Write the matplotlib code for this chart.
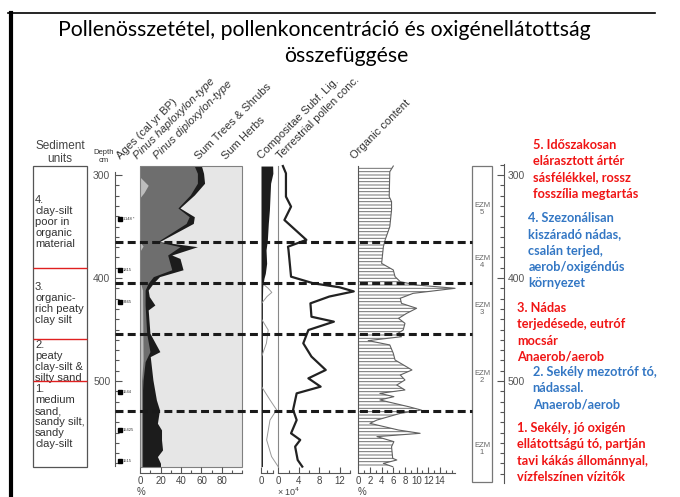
import numpy as np
import matplotlib
matplotlib.use('Agg')
from matplotlib import pyplot as plt
from matplotlib.patches import Rectangle

plt.rcParams['font.family'] = ['Liberation Sans', 'DejaVu Sans']
plt.rcParams['hatch.linewidth'] = 0.7
plt.rcParams['hatch.color'] = '#707070'

W, H = 680, 497
D_TOP, D_BOT = 291.3, 583.1

# zone boundaries, depth in cm
zones = [365.4, 405.2, 454.7, 529.0]
sed_bounds = [390.3, 459.2, 500.0]
ezm_names = ['EZM\n5', 'EZM\n4', 'EZM\n3', 'EZM\n2', 'EZM\n1']
ezm_depth = [333, 384.5, 430, 496, 566]

age_depth = [343, 392, 423, 511, 548, 578]
age_label = ['1148 *', '1815', '9465', '1544', '15425', '1515']

# pollen percentages (cumulative)
trees_d = [291.3, 298.4, 308.0, 319.4, 332.0, 340.5, 347.0, 364.7, 369.6, 377.7,
           381.0, 392.0, 398.7, 405.0, 411.7, 418.0, 426.2, 431.0, 453.7, 471.5,
           476.3, 499.0, 518.4, 528.0, 541.0, 547.5, 557.2, 566.9, 573.4, 579.9, 583.1]
trees = [60, 62, 63, 53, 39, 53, 52, 19, 56, 31,
         39, 42, 19, 13, 8, 9, 14.5, 8, 9.7, 19.4,
         10, 12.6, 16, 19, 17, 21, 21, 22, 17, 20, 20]
dip_d = [291.3, 298.4, 308.0, 319.4, 332.0, 340.5, 347.0, 364.7, 369.6, 377.7,
         392.0, 398.7, 405.0, 411.7, 426.2, 453.7, 471.5, 481.2, 499.0, 508.7, 583.1]
dip = [53, 56, 56, 49, 37, 48, 45, 17, 39, 27,
       31, 13, 8, 5, 5, 6.5, 9.7, 5, 3, 2.5, 2.5]
hap_d = [291.3, 302, 310, 317, 322, 365, 369, 374, 403, 411.7, 480, 500, 583.1]
hap = [0, 0, 8, 4, 0, 0, 3, 0, 0, 2.5, 3, 1.5, 1.5]

# Compositae Subf. Lig.
comp_d = [291.3, 298.4, 308.1, 321.0, 334.0, 346.9, 363.1, 372.8, 385.8, 395.5,
          400.3, 408.4, 420, 583.1]
comp = [9.7, 9.9, 8.0, 7.5, 7.0, 6.1, 5.3, 4.2, 4.7, 3.6, 2.5, 1.4, 1.2, 1.2]
lig_d = [405, 410, 414, 418, 424.6, 440, 450.5, 463.4, 476.3, 505.5,
         518.4, 528, 537.9, 557.2, 573.4, 583.1]
lig = [1, 6, 9, 5, 0.5, 0.5, 6, 4.5, 0.5, 0.5, 7.5, 13, 7.5, 4.7, 8.8, 14.3]

# terrestrial pollen conc. (x 10^4)
terr_d = [291.3, 298.4, 321.0, 330.7, 343.7, 363.0, 369.6, 372.8, 398.7, 405.2,
          409.0, 413.0, 418.0, 424.6, 437.6, 442.4, 450.5, 463.4, 476.3, 489.3,
          497.4, 505.5, 512.0, 528.0, 537.9, 550.8, 557.2, 563.7, 576.7, 583.1]
terr = [0.9, 1.5, 1.5, 2.5, 1.2, 5.5, 1.9, 2.0, 2.5, 6.9,
        12.0, 14.8, 10.0, 6.3, 6.5, 10.9, 5.9, 4.9, 6.5, 9.3,
        5.9, 8.3, 3.6, 2.9, 3.6, 2.5, 4.3, 3.3, 3.8, 4.7]

# organic content %
org_d = [291.3, 296.8, 321.0, 325.9, 334.0, 350.2, 363.1, 369.6, 385.8, 392.2,
         398.7, 403.6, 406.8, 410.0, 414.9, 419.7, 424.6, 429.4, 434.3, 439.2,
         444.0, 450.5, 454.4, 457.0, 460.8, 465.0, 473.1, 479.6, 489.3, 494.2,
         499.0, 503.9, 508.7, 512.0, 515.2, 518.4, 524.9, 528.2, 531.4, 537.9,
         541.1, 547.6, 550.8, 554.0, 558.9, 563.8, 575.1, 576.7, 580.0, 583.2]
org = [6.0, 5.4, 5.3, 5.7, 5.7, 5.4, 4.6, 4.3, 4.0, 6.0,
       6.3, 7.2, 10.0, 16.6, 9.4, 7.2, 7.4, 10.0, 8.3, 6.9,
       8.0, 7.7, 6.6, 7.4, 1.7, 5.4, 6.0, 6.3, 9.2, 7.2,
       8.0, 6.6, 8.0, 3.7, 6.1, 3.7, 8.6, 10.8, 7.2, 3.2,
       2.0, 6.9, 10.6, 3.2, 6.1, 5.7, 5.9, 6.6, 4.3, 5.9]

headers = [(121, 'Ages (cal yr BP)', 'normal'),
           (138, 'Pinus haploxylon-type', 'italic'),
           (158, 'Pinus diploxylon-type', 'italic'),
           (199, 'Sum Trees & Shrubs', 'normal'),
           (226, 'Sum Herbs', 'normal'),
           (262, 'Compositae Subf. Lig.', 'normal'),
           (281, 'Terrestrial pollen conc.', 'normal'),
           (355, 'Organic content', 'normal')]

sed_text = [(200, '4.\nclay-silt\npoor in\norganic\nmaterial'),
            (287, '3.\norganic-\nrich peaty\nclay silt'),
            (345, '2.\npeaty\nclay-silt &\nsilty sand'),
            (389, '1.\nmedium\nsand,\nsandy silt,\nsandy\nclay-silt')]

RED, BLUE = '#f01414', '#3377c4'
notes = [(532.7, 145, RED, '5. Időszakosan\nelárasztott ártér\nsásfélékkel, rossz\nfosszília megtartás'),
         (528.3, 218.3, BLUE, '4. Szezonálisan\nkiszáradó nádas,\ncsalán terjed,\naerob/oxigéndús\nkörnyezet'),
         (517.3, 308.3, RED, '3. Nádas\nterjedésede, eutróf\nmocsár\nAnaerob/aerob'),
         (532.7, 371.7, BLUE, '2. Sekély mezotróf tó,\nnádassal.\nAnaerob/aerob'),
         (517.3, 428.3, RED, '1. Sekély, jó oxigén\nellátottságú tó, partján\ntavi kákás állománnyal,\nvízfelszínen vízitők')]


def dpx(d):
    # depth in cm -> pixel row on the slide
    return 175 + (d - 300) * 1.03


fig = plt.figure(figsize=(W / 100, H / 100), dpi=100)


def ax_px(x0, x1, y0, y1):
    return fig.add_axes([x0 / W, 1 - y1 / H, (x1 - x0) / W, (y1 - y0) / H])


def block(x, y, txt, pitch, **kw):
    for i, s in enumerate(txt.split('\n')):
        bg.text(x, y + i * pitch, s, va='center', **kw)


def bottom_axis(ax, lo, hi, major, minor, labels):
    for s in ['top', 'right', 'left']:
        ax.spines[s].set_visible(False)
    sp = ax.spines['bottom']
    sp.set_position(('outward', 4.5))
    sp.set_bounds(lo, hi)
    sp.set_color('#555')
    sp.set_linewidth(0.8)
    ax.set_xticks(major)
    ax.set_xticklabels(labels)
    ax.set_xticks(minor, minor=True)
    ax.tick_params(axis='x', which='both', direction='in', color='#555',
                   labelsize=7, labelcolor='#444', pad=2, width=0.8)
    ax.tick_params(axis='x', which='major', length=4)
    ax.tick_params(axis='x', which='minor', length=2.2)
    ax.set_yticks([])
    ax.set_ylim(D_BOT, D_TOP)
    ax.patch.set_visible(False)


bg = ax_px(0, W, 0, H)
bg.set_xlim(0, W)
bg.set_ylim(H, 0)
bg.axis('off')

# slide frame and title
bg.plot([8, 655], [13, 13], color='k', lw=1.2)
bg.plot([10.5, 10.5], [13, H], color='k', lw=3)
bg.text(324, 36, 'Pollenösszetétel, pollenkoncentráció és oxigénellátottság',
        ha='center', va='baseline', fontsize=15.3, family=['Lato', 'DejaVu Sans'])
bg.text(346, 62, 'összefüggése', ha='center', va='baseline', fontsize=15.3,
        family=['Lato', 'DejaVu Sans'])

# column headers
for x, s, st in headers:
    bg.text(x, 160, s, rotation=45, rotation_mode='anchor', ha='left', va='baseline',
            fontsize=8, style=st, color='#333')
bg.text(104, 153, 'Depth', ha='center', va='center', fontsize=5.5, color='#333')
bg.text(104, 161, 'cm', ha='center', va='center', fontsize=5.5, color='#333')
bg.text(60, 146, 'Sediment', ha='center', va='center', fontsize=8.5, color='#444')
bg.text(60, 159, 'units', ha='center', va='center', fontsize=8.5, color='#444')

for y, s in sed_text:
    block(35, y, s, 11, fontsize=8, color='#333')

for x, y, c, s in notes:
    block(x, y, s, 16.2, fontsize=9.2, color=c, weight='bold',
          family=['Lato', 'DejaVu Sans'])

y0, y1 = dpx(D_TOP), dpx(D_BOT)

# pollen percentage panel
ap = ax_px(140, 242.5, y0, y1)
ap.set_facecolor('#e6e6e6')
ap.fill_betweenx(trees_d, 0, trees, color='#1c1c1c', lw=0)
ap.fill_betweenx(dip_d, 0, dip, color='#6e6e6e', lw=0)
ap.fill_betweenx(hap_d, 0, hap, color='#bdbdbd', lw=0)
ap.set_xlim(0, 100)
bottom_axis(ap, 0, 100, [0, 20, 40, 60, 80], np.arange(0, 101, 10), ['0', '20', '40', '60', '80'])
ap.patch.set_visible(True)
ap.add_patch(Rectangle((0, 0), 1, 1, transform=ap.transAxes, fill=False,
                       ec='#808080', lw=0.8, clip_on=False))

# compositae panel
ac = ax_px(261, 279, y0, y1)
ac.fill_betweenx(comp_d, 0, comp, color='#1c1c1c', lw=0)
ac.plot(lig, lig_d, color='#999999', lw=0.7, clip_on=False)
ac.set_xlim(0, 15)
bottom_axis(ac, 0, 10, [0], [5, 10], ['0'])

# terrestrial pollen concentration
at = ax_px(278.3, 349.7, y0, y1)
at.plot(terr, terr_d, color='#222222', lw=1.6, clip_on=False)
at.set_xlim(0, 14)
bottom_axis(at, 0, 14, [0, 4, 8, 12], [2, 6, 10, 14], ['0', '4', '8', '12'])
at.spines['left'].set_visible(True)
at.spines['left'].set_color('#888')
at.spines['left'].set_linewidth(0.8)

# organic content
ao = ax_px(358.3, 455.1, y0, y1)
ao.fill_betweenx(org_d, 0, org, facecolor='none', edgecolor='#707070', hatch='-----', lw=0)
ao.plot(org, org_d, color='#606060', lw=0.8, clip_on=False)
ao.set_xlim(0, 16.6)
bottom_axis(ao, 0, 16.6, [0, 2, 4, 6, 8, 10, 12, 14], np.arange(0, 17, 1),
            ['0', '2', '4', '6', '8', '10', '12', '14'])
ao.spines['left'].set_visible(True)
ao.spines['left'].set_color('#555')
ao.spines['left'].set_linewidth(0.8)

fig.text(141 / W, 1 - 492 / H, '%', fontsize=7, color='#444', ha='center', va='center')
fig.text(362 / W, 1 - 492 / H, '%', fontsize=7, color='#444', ha='center', va='center')
fig.text(277 / W, 1 - 492 / H, '× 10$^4$', fontsize=6.5, color='#444', ha='left', va='center')

# depth axes
ya0, ya1 = dpx(290), dpx(600)
for x, side, lo, hi in [(115, 'left', 297, 583), (503, 'right', 289, 599)]:
    a = ax_px(x - 0.5, x + 0.5, ya0, ya1)
    a.set_ylim(600, 290)
    a.set_xticks([])
    a.patch.set_visible(False)
    for s in a.spines:
        a.spines[s].set_visible(s == side)
    a.spines[side].set_bounds(lo, hi)
    a.spines[side].set_color('#555')
    a.spines[side].set_linewidth(0.8)
    if side == 'right':
        a.yaxis.tick_right()
        a.set_yticks(np.arange(290, 600, 10), minor=True)
    else:
        a.set_yticks(np.arange(300, 590, 10), minor=True)
    a.set_yticks([300, 400, 500])
    a.tick_params(axis='y', which='both', direction='in', color='#555', width=0.8,
                  labelsize=7.5, labelcolor='#555', pad=3)
    a.tick_params(axis='y', which='major', length=5)
    a.tick_params(axis='y', which='minor', length=3)

# overlay in slide-pixel x / depth y
ov = ax_px(0, W, ya0, ya1)
ov.set_xlim(0, W)
ov.set_ylim(600, 290)
ov.axis('off')
ov.add_patch(Rectangle((33, D_TOP), 54, D_BOT - D_TOP, fill=False, ec='#555', lw=0.9))
ov.hlines(sed_bounds, 33, 87, color='#e02020', lw=1.0)
ov.add_patch(Rectangle((472, D_TOP), 20, 597.8 - D_TOP, fill=False, ec='#777', lw=0.9))
for name, d in zip(ezm_names, ezm_depth):
    ov.text(482, d, name, ha='center', va='center', fontsize=5.5, color='#666',
            linespacing=1.1)
ov.plot([119.5] * len(age_depth), age_depth, 's', ms=3.2, color='k')
for d, s in zip(age_depth, age_label):
    ov.text(123, d, s, fontsize=3, va='center', color='#333')
ov.hlines(zones, 115, 472, color='#1a1a1a', lw=2.2, linestyles=(0, (2.6, 1.4)))

fig.savefig('out.png', dpi=100)
